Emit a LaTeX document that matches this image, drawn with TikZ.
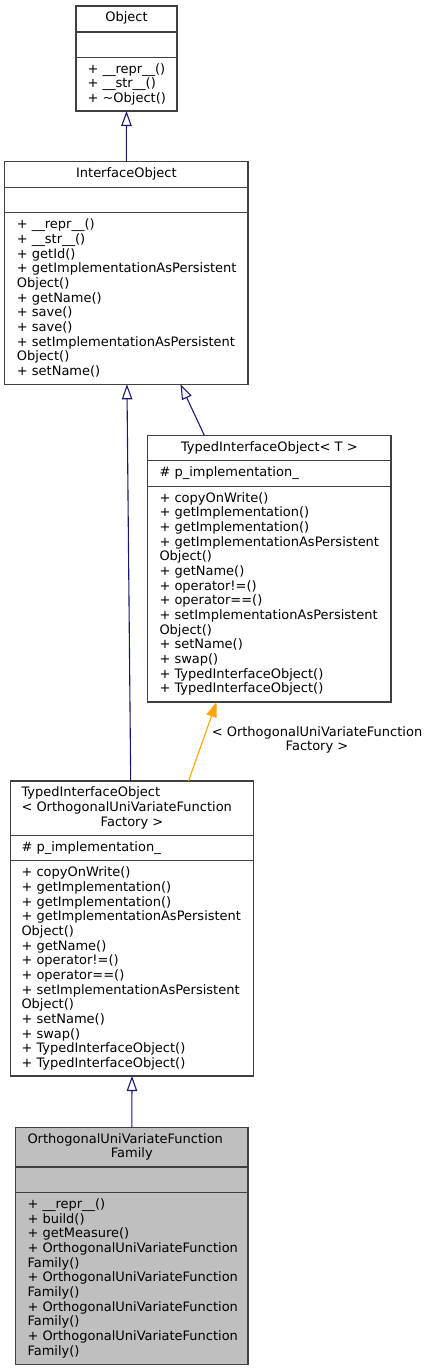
\documentclass[tikz,border=0pt]{standalone}
\usepackage{fontspec}
\setmainfont{DejaVu Sans}
\usetikzlibrary{arrows.meta,calc}
\definecolor{edgeblue}{HTML}{191970}
\definecolor{edgeorange}{HTML}{FFA500}
\definecolor{boxline}{HTML}{404040}
\definecolor{hifill}{HTML}{BFBFBF}
\newcommand{\umlfont}{\fontsize{13}{14.67}\selectfont}
\tikzset{
  classbox/.style={draw=boxline, line width=1.1pt, fill=white, inner sep=0pt, outer sep=0pt, anchor=north west},
  hibox/.style={classbox, fill=hifill},
  divider/.style={draw=boxline, line width=1.1pt},
  txtl/.style={inner sep=0pt, font=\umlfont, align=left, anchor=north west},
  txtc/.style={inner sep=0pt, font=\umlfont, align=center, anchor=north},
  inh/.style={draw=edgeblue, line width=1.1pt, -{Triangle[open, length=15pt, width=10.5pt]}},
  tmpl/.style={draw=edgeorange, line width=1.1pt, -{Triangle[length=15pt, width=10.5pt, fill=edgeorange]}},
}
\begin{document}
\begin{tikzpicture}[x=1pt, y=1pt]
\useasboundingbox (0,0) rectangle (428,-1371);

% ---------- Object
\node[classbox, minimum width=101pt, minimum height=105pt] (obj) at (76,-6) {};
\draw[divider] ($(obj.north west)+(0,-26)$) -- ($(obj.north east)+(0,-26)$);
\draw[divider] ($(obj.north west)+(0,-51.1)$) -- ($(obj.north east)+(0,-51.1)$);
\node[txtc] (obj-name) at (126.5,-11.5) {\strut Object};
\node[txtl] (obj-ops) at (87.3,-62.6) {\strut + \_\_repr\_\_()\\\strut + \_\_str\_\_()\\\strut + \textasciitilde Object()};

% ---------- InterfaceObject
\node[classbox, minimum width=243.3pt, minimum height=222.6pt] (io) at (4.7,-161.7) {};
\draw[divider] ($(io.north west)+(0,-25.6)$) -- ($(io.north east)+(0,-25.6)$);
\draw[divider] ($(io.north west)+(0,-51)$) -- ($(io.north east)+(0,-51)$);
\node[txtc] (io-name) at (126.35,-167.2) {\strut InterfaceObject};
\node[txtl] (io-ops) at (16.7,-218.2) {\strut + \_\_repr\_\_()\\\strut + \_\_str\_\_()\\\strut + getId()\\\strut + getImplementationAsPersistent\\\strut Object()\\\strut + getName()\\\strut + save()\\\strut + save()\\\strut + setImplementationAsPersistent\\\strut Object()\\\strut + setName()};

% ---------- TypedInterfaceObject< T >
\node[classbox, minimum width=243.3pt, minimum height=266.7pt] (tiot) at (147.7,-435.3) {};
\draw[divider] ($(tiot.north west)+(0,-25.5)$) -- ($(tiot.north east)+(0,-25.5)$);
\draw[divider] ($(tiot.north west)+(0,-51)$) -- ($(tiot.north east)+(0,-51)$);
\node[txtc] (tiot-name) at (269.35,-440.8) {\strut TypedInterfaceObject< T >};
\node[txtl] (tiot-attr) at (159.3,-466.3) {\strut \# p\_implementation\_};
\node[txtl] (tiot-ops) at (159.3,-491.8) {\strut + copyOnWrite()\\\strut + getImplementation()\\\strut + getImplementation()\\\strut + getImplementationAsPersistent\\\strut Object()\\\strut + getName()\\\strut + operator!=()\\\strut + operator==()\\\strut + setImplementationAsPersistent\\\strut Object()\\\strut + setName()\\\strut + swap()\\\strut + TypedInterfaceObject()\\\strut + TypedInterfaceObject()};

% ---------- TypedInterfaceObject< OrthogonalUniVariateFunctionFactory >
\node[classbox, minimum width=242.6pt, minimum height=295pt] (tiof) at (10.7,-781) {};
\draw[divider] ($(tiof.north west)+(0,-54.3)$) -- ($(tiof.north east)+(0,-54.3)$);
\draw[divider] ($(tiof.north west)+(0,-79.8)$) -- ($(tiof.north east)+(0,-79.8)$);
\node[txtl] (tiof-name) at (21.3,-786.5) {\strut TypedInterfaceObject\\\strut < OrthogonalUniVariateFunction};
\node[txtc] (tiof-name2) at (132,-815.84) {\strut Factory >};
\node[txtl] (tiof-attr) at (21.3,-840.8) {\strut \# p\_implementation\_};
\node[txtl] (tiof-ops) at (21.3,-866.3) {\strut + copyOnWrite()\\\strut + getImplementation()\\\strut + getImplementation()\\\strut + getImplementationAsPersistent\\\strut Object()\\\strut + getName()\\\strut + operator!=()\\\strut + operator==()\\\strut + setImplementationAsPersistent\\\strut Object()\\\strut + setName()\\\strut + swap()\\\strut + TypedInterfaceObject()\\\strut + TypedInterfaceObject()};

% ---------- OrthogonalUniVariateFunctionFamily
\node[hibox, minimum width=232.3pt, minimum height=237pt] (ouvff) at (15.7,-1127.3) {};
\draw[divider] ($(ouvff.north west)+(0,-39.7)$) -- ($(ouvff.north east)+(0,-39.7)$);
\draw[divider] ($(ouvff.north west)+(0,-65.3)$) -- ($(ouvff.north east)+(0,-65.3)$);
\node[txtl] (ouvff-name) at (27.3,-1132.8) {\strut OrthogonalUniVariateFunction};
\node[txtc] (ouvff-name2) at (131.85,-1147.47) {\strut Family};
\node[txtl] (ouvff-ops) at (27.3,-1198.1) {\strut + \_\_repr\_\_()\\\strut + build()\\\strut + getMeasure()\\\strut + OrthogonalUniVariateFunction\\\strut Family()\\\strut + OrthogonalUniVariateFunction\\\strut Family()\\\strut + OrthogonalUniVariateFunction\\\strut Family()\\\strut + OrthogonalUniVariateFunction\\\strut Family()};

% ---------- connectors
\draw[inh] (io.north) -- (obj.south);
\draw[inh] ($(tiot.north west)+(56.6,0)$) -- ($(io.south west)+(175.8,0)$);
\draw[inh] ($(tiof.north)+(-1.3,0)$) -- ($(io.south)+(0.6,0)$);
\draw[tmpl] ($(tiof.north west)+(177.8,0)$) -- ($(tiot.south west)+(68.8,0)$);
\node[txtc] (tmpl-label) at (317,-725.7) {\strut < OrthogonalUniVariateFunction\\\strut Factory >};
\draw[inh] (ouvff.north) -- (tiof.south);
\end{tikzpicture}
\end{document}
